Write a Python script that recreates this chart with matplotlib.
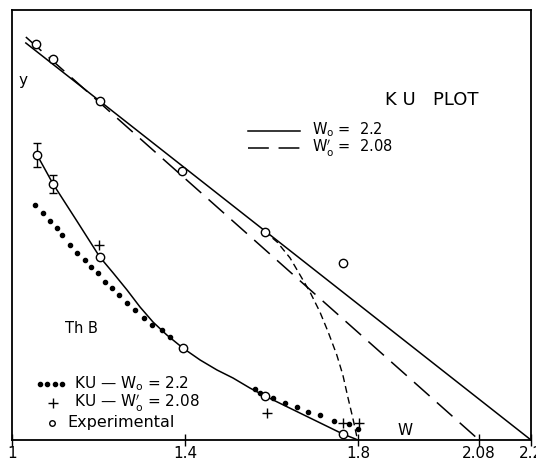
import numpy as np
import matplotlib.pyplot as plt

plt.rcParams['font.family'] = 'DejaVu Sans'
plt.rcParams['lines.scale_dashes'] = False

# straight KU lines (W0 = 2.2 solid, W0' = 2.08 long dashes)
w_ku22 = [1.032, 2.2]
y_ku22 = [3.97, 0.0]
w_ku208 = [1.032, 2.08]
y_ku208 = [4.03, 0.0]

# experimental points on the upper line
w_exp_top = [1.056, 1.095, 1.203, 1.393, 1.585, 1.765]
y_exp_top = [3.96, 3.81, 3.39, 2.69, 2.08, 1.77]

# experimental points on the Th B curve
w_exp_low = [1.058, 1.095, 1.203, 1.395, 1.585, 1.765]
y_exp_low = [2.85, 2.56, 1.83, 0.92, 0.44, 0.06]
err_w = [1.058, 1.095]
err_y = [2.85, 2.56]
err_size = [0.115, 0.09]

# curve drawn through the Th B points
w_curve = [1.058, 1.095, 1.150, 1.203, 1.234, 1.266, 1.296, 1.326, 1.358, 1.395,
           1.435, 1.474, 1.511, 1.550, 1.585, 1.765, 1.800]
y_curve = [2.85, 2.56, 2.19, 1.83, 1.67, 1.50, 1.33, 1.18, 1.05, 0.92,
           0.80, 0.70, 0.62, 0.52, 0.44, 0.06, 0.0]

# KU - W0 = 2.2 (dots)
w_dots = [1.053, 1.072, 1.088, 1.104, 1.116, 1.134, 1.150, 1.169, 1.183, 1.199,
          1.215, 1.231, 1.247, 1.266, 1.284, 1.305, 1.324, 1.347, 1.365,
          1.562, 1.573, 1.603, 1.631, 1.659, 1.684, 1.712, 1.745, 1.779, 1.800]
y_dots = [2.35, 2.27, 2.19, 2.12, 2.05, 1.95, 1.87, 1.80, 1.73, 1.67,
          1.58, 1.52, 1.45, 1.37, 1.30, 1.22, 1.15, 1.10, 1.03,
          0.51, 0.47, 0.42, 0.37, 0.33, 0.28, 0.25, 0.19, 0.16, 0.11]

# KU - W0' = 2.08 (plus)
w_plus = [1.201, 1.590, 1.765, 1.802]
y_plus = [1.95, 0.27, 0.17, 0.17]

# short dashed transition curve
w_trans = [1.583, 1.613, 1.643, 1.666, 1.689, 1.712, 1.731, 1.751, 1.765, 1.777, 1.788, 1.798]
y_trans = [2.09, 1.98, 1.82, 1.65, 1.48, 1.28, 1.08, 0.85, 0.65, 0.42, 0.22, 0.02]

xticks = [1.0, 1.4, 1.8, 2.08, 2.2]
xtick_labels = ['1', '1.4', '1.8', '2.08', '2.2']

fig = plt.figure(figsize=(5.36, 4.61), dpi=100)
ax = fig.add_axes([12/536, 21/461, 519/536, 430/461])

ax.plot(w_ku22, y_ku22, color='black', lw=1.1)
ax.plot(w_ku208, y_ku208, color='black', lw=1.1, dashes=(15, 7))
ax.plot(w_trans, y_trans, color='black', lw=1.0, dashes=(5, 3))
ax.plot(w_curve, y_curve, color='black', lw=1.1)

ax.plot(w_dots, y_dots, 'o', color='black', ms=3, ls='none')
ax.plot(w_plus, y_plus, '+', color='black', ms=7, mew=1.0, ls='none')
ax.errorbar(err_w, err_y, yerr=err_size, fmt='none', ecolor='black',
            elinewidth=1.0, capsize=3, capthick=1.0)
ax.plot(w_exp_top, y_exp_top, 'o', mfc='white', mec='black', ms=6, mew=1.0, ls='none')
ax.plot(w_exp_low, y_exp_low, 'o', mfc='white', mec='black', ms=6, mew=1.0, ls='none')

ax.set_xlim(1.0, 2.2)
ax.set_ylim(0, 4.30)
ax.set_xticks(xticks)
ax.set_xticklabels(xtick_labels, fontsize=11)
ax.set_yticks([])
ax.tick_params(axis='x', direction='inout', length=9, width=1.0, pad=0)
for s in ax.spines.values():
    s.set_linewidth(1.3)

tr = ax.transAxes
ax.text(0.012, 0.837, 'y', transform=tr, fontsize=11, va='center', ha='left')
ax.text(0.757, 0.023, 'W', transform=tr, fontsize=11, va='center', ha='center')
ax.text(0.102, 0.26, 'Th B', transform=tr, fontsize=10.5, va='center', ha='left')
ax.text(0.719, 0.791, 'K U   PLOT', transform=tr, fontsize=13, va='center', ha='left')

# upper key
ax.plot([0.455, 0.555], [0.719, 0.719], transform=tr, color='black', lw=1.1)
ax.plot([0.455, 0.555], [0.679, 0.679], transform=tr, color='black', lw=1.1, dashes=(15, 7))
ax.text(0.578, 0.721, r'W$_\mathrm{o}$ =  2.2', transform=tr, fontsize=10.5, va='center')
ax.text(0.578, 0.677, r'W$^\prime_\mathrm{o}$ =  2.08', transform=tr, fontsize=10.5, va='center')

# lower key
ax.plot([0.054, 0.068, 0.082, 0.096], [0.130] * 4, 'o', transform=tr, color='black', ms=3)
ax.plot([0.079], [0.086], '+', transform=tr, color='black', ms=7, mew=1.0)
ax.plot([0.077], [0.040], 'o', transform=tr, mfc='white', mec='black', ms=4, mew=1.0)
ax.text(0.119, 0.130, r'KU — W$_\mathrm{o}$ = 2.2', transform=tr, fontsize=11, va='center')
ax.text(0.119, 0.086, r'KU — W$^\prime_\mathrm{o}$ = 2.08', transform=tr, fontsize=11, va='center')
ax.text(0.106, 0.040, 'Experimental', transform=tr, fontsize=11.5, va='center')

fig.savefig('out.png', dpi=100)
